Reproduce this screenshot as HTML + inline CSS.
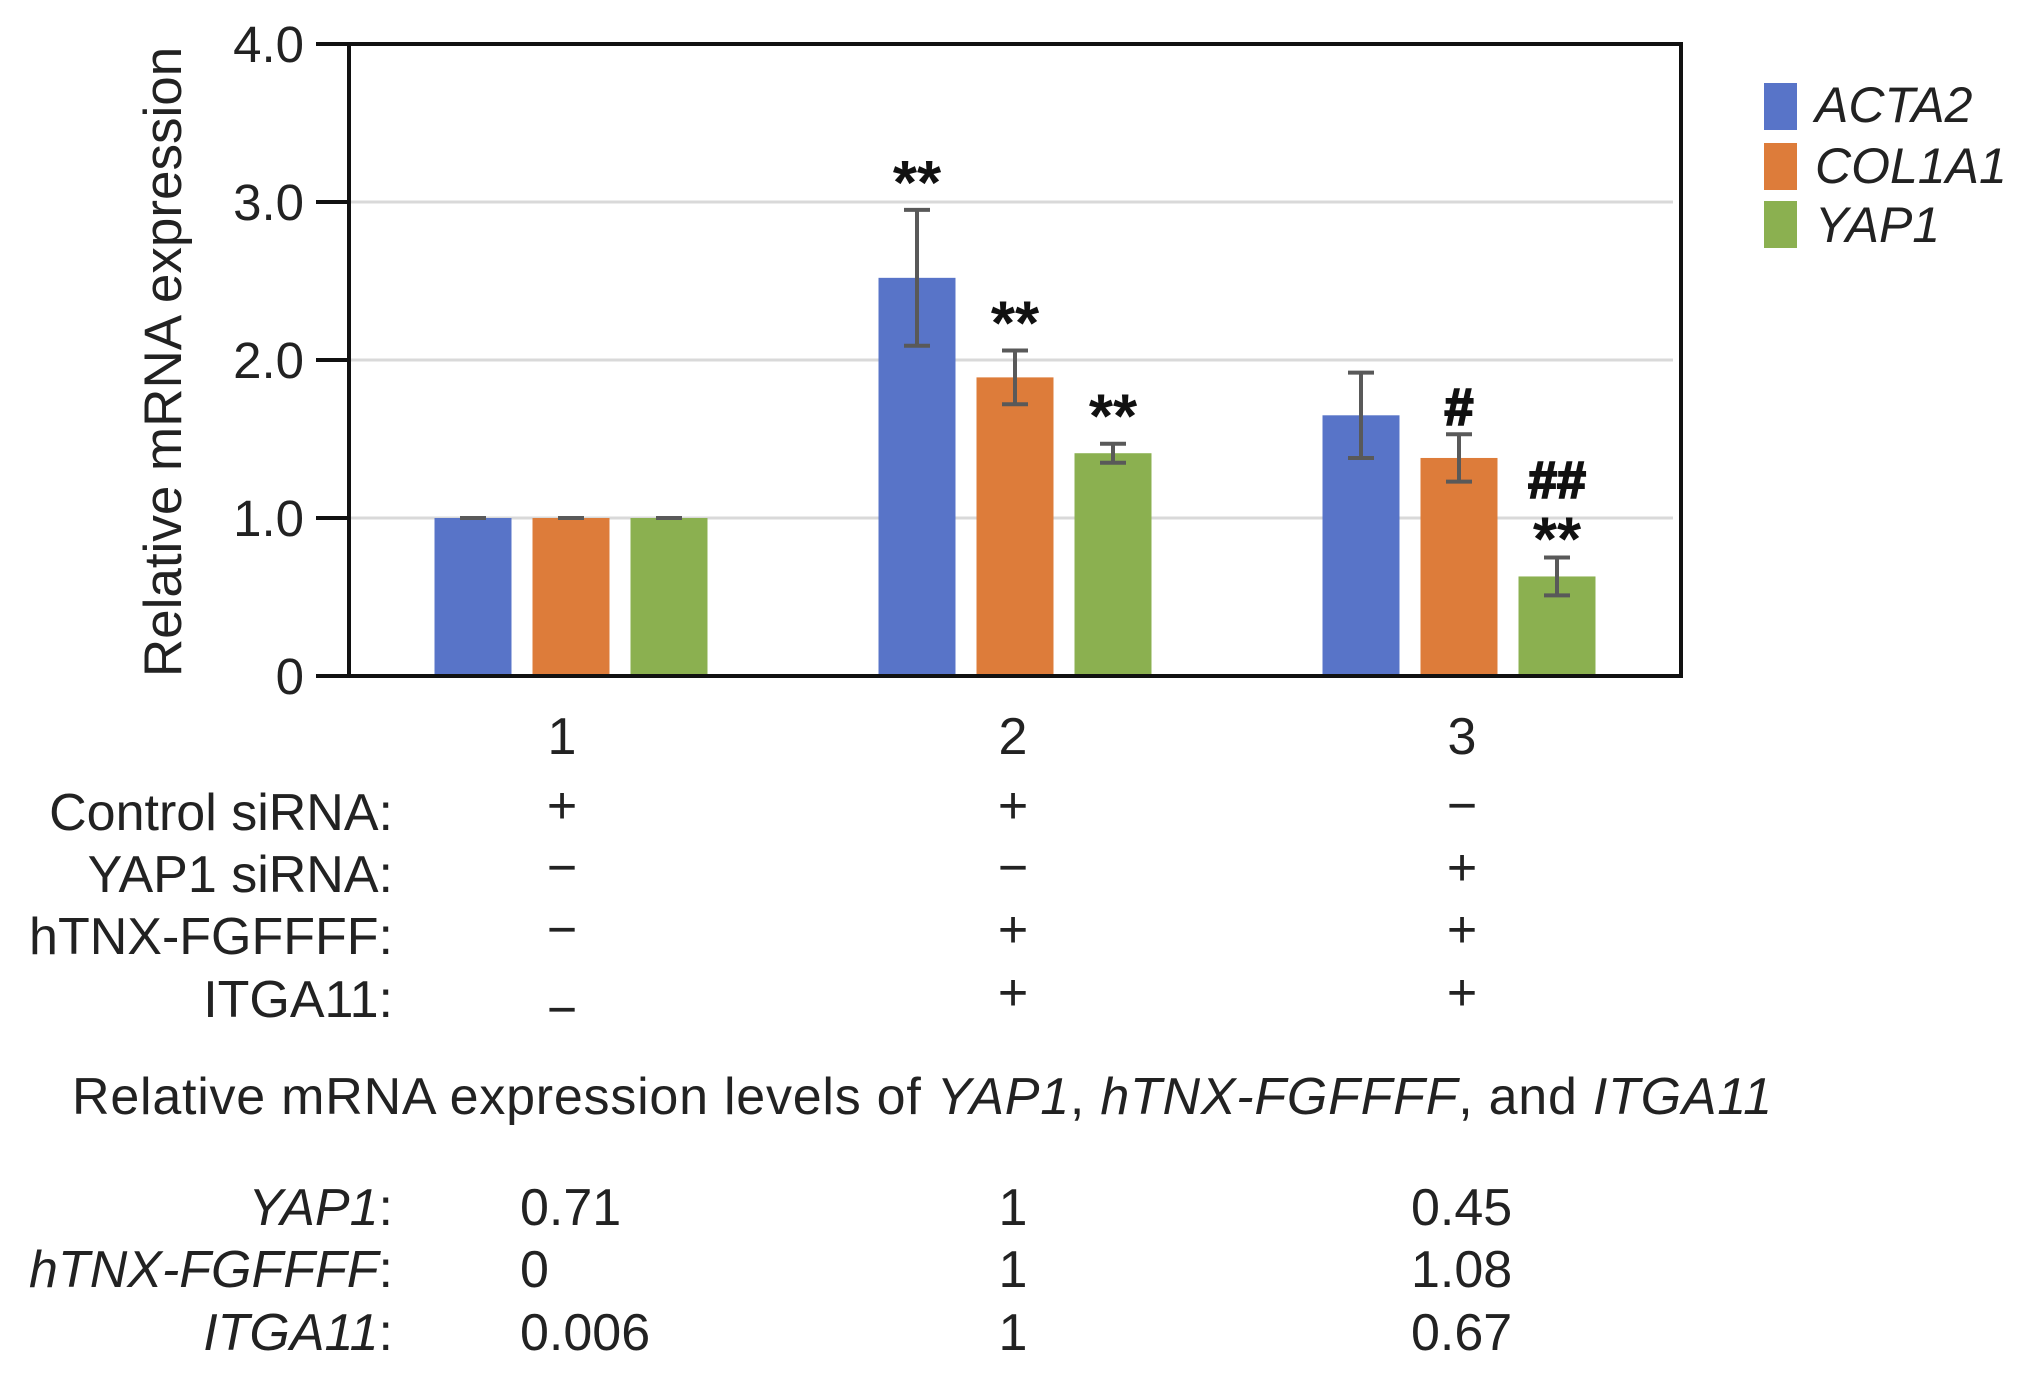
<!DOCTYPE html>
<html><head><meta charset="utf-8"><style>
html,body{margin:0;padding:0;background:#fff;}
svg{display:block;font-family:"Liberation Sans",Arial,sans-serif;}
</style></head><body>
<svg id="chart" width="2031" height="1377" viewBox="0 0 2031 1377" xmlns="http://www.w3.org/2000/svg">
<g id="grid"></g>
<g id="bars"></g>
<g id="axes"></g>
<text transform="translate(181,362) rotate(-90)" text-anchor="middle" font-size="53" fill="#222">Relative mRNA expression</text>
<g font-size="50" font-style="italic" fill="#222">
<rect x="1764" y="83" width="33" height="47" fill="#5874c8"/>
<text x="1815" y="122">ACTA2</text>
<rect x="1764" y="143" width="33" height="47" fill="#dd7c3a"/>
<text x="1815" y="183">COL1A1</text>
<rect x="1764" y="201" width="33" height="47" fill="#8bb050"/>
<text x="1815" y="242">YAP1</text>
</g>
<g font-size="52" fill="#222">
<text x="562" y="754" text-anchor="middle">1</text>
<text x="1013" y="754" text-anchor="middle">2</text>
<text x="1462" y="754" text-anchor="middle">3</text>
<g text-anchor="end">
<text x="393" y="830">Control siRNA:</text>
<text x="393" y="892">YAP1 siRNA:</text>
<text x="393" y="954">hTNX-FGFFFF:</text>
<text x="393" y="1017">ITGA11:</text>
</g>
<g text-anchor="middle">
<text x="562" y="823">+</text>
<text x="1013" y="823">+</text>
<text x="1462" y="823">−</text>
<text x="562" y="885">−</text>
<text x="1013" y="885">−</text>
<text x="1462" y="885">+</text>
<text x="562" y="947">−</text>
<text x="1013" y="947">+</text>
<text x="1462" y="947">+</text>
<text x="562" y="1027">−</text>
<text x="1013" y="1010">+</text>
<text x="1462" y="1010">+</text>
</g>
<text x="72" y="1114" textLength="1700" lengthAdjust="spacing">Relative mRNA expression levels of <tspan font-style="italic">YAP1</tspan>, <tspan font-style="italic">hTNX-FGFFFF</tspan>, and <tspan font-style="italic">ITGA11</tspan></text>
<g text-anchor="end" font-style="italic">
<text x="393" y="1225">YAP1<tspan font-style="normal">:</tspan></text>
<text x="393" y="1287">hTNX-FGFFFF<tspan font-style="normal">:</tspan></text>
<text x="393" y="1350">ITGA11<tspan font-style="normal">:</tspan></text>
</g>
<text x="520" y="1225">0.71</text>
<text x="520" y="1287">0</text>
<text x="520" y="1350">0.006</text>
<text x="1013" y="1225" text-anchor="middle">1</text>
<text x="1013" y="1287" text-anchor="middle">1</text>
<text x="1013" y="1350" text-anchor="middle">1</text>
<text x="1411" y="1225">0.45</text>
<text x="1411" y="1287">1.08</text>
<text x="1411" y="1350">0.67</text>
</g>
</svg>
<script>
const categories = ["1", "2", "3"];
const seriesNames = ["ACTA2", "COL1A1", "YAP1"];
const acta2 = [1.0, 2.52, 1.65];
const col1a1 = [1.0, 1.89, 1.38];
const yap1 = [1.0, 1.41, 0.63];
const acta2Err = [0.0, 0.43, 0.27];
const col1a1Err = [0.0, 0.17, 0.15];
const yap1Err = [0.0, 0.06, 0.12];
const acta2Sig = ["", "**", ""];
const col1a1Sig = ["", "**", "#"];
const yap1Sig = ["", "**", "##\n**"];
const yTicks = [0, 1, 2, 3, 4];
const yTickLabels = ["0", "1.0", "2.0", "3.0", "4.0"];

const NS = "http://www.w3.org/2000/svg";
const L = 349, R = 1681, T = 44, B = 676, yMax = 4;
const colors = ["#5874c8", "#dd7c3a", "#8bb050"];
const y = v => B - v / yMax * (B - T);
const catW = (R - L) / categories.length;
const xCenter = i => L + catW * (i + 0.5);
const barW = 77, step = 98;
function mk(tag, attrs, parent) {
  const e = document.createElementNS(NS, tag);
  for (const k in attrs) e.setAttribute(k, attrs[k]);
  parent.appendChild(e);
  return e;
}
const grid = document.getElementById('grid');
const axes = document.getElementById('axes');
const barsG = document.getElementById('bars');
yTicks.forEach((t, i) => {
  if (t > 0 && t < yMax) {
    const g = mk('line', {x1: L, x2: R - 8, y1: y(t), y2: y(t), stroke: '#d9d9d9', 'stroke-width': 3}, grid);
    
    
  }
  const tk = mk('line', {x1: 316, x2: L, y1: y(t), y2: y(t), stroke: '#111', 'stroke-width': 4}, axes);
  
  
  const lb = mk('text', {x: 304, y: y(t) + 18, 'text-anchor': 'end', 'font-size': 51, fill: '#222'}, axes);
  lb.textContent = yTickLabels[i];
  
  
});
const frame = mk('rect', {x: L, y: T, width: R - L, height: B - T, fill: 'none', stroke: '#111', 'stroke-width': 4}, axes);



const vals = [acta2, col1a1, yap1];
const errs = [acta2Err, col1a1Err, yap1Err];
const sigs = [acta2Sig, col1a1Sig, yap1Sig];
categories.forEach((c, i) => {
  vals.forEach((arr, s) => {
    const cx = xCenter(i) + (s - 1) * step;
    const v = arr[i];
    const r = mk('rect', {x: cx - barW / 2, y: y(v), width: barW, height: B - y(v), fill: colors[s]}, barsG);
    
    
    const e = errs[s][i];
    const eg = mk('g', {stroke: '#595959', 'stroke-width': 4}, barsG);
    
    
    mk('line', {x1: cx, x2: cx, y1: y(v + e), y2: y(v - e)}, eg);
    mk('line', {x1: cx - 13, x2: cx + 13, y1: y(v + e), y2: y(v + e)}, eg);
    mk('line', {x1: cx - 13, x2: cx + 13, y1: y(v - e), y2: y(v - e)}, eg);
    const sg = sigs[s][i];
    if (sg) {
      const lines = sg.split('\n');
      const top = y(v + e);
      const stacked = lines.length > 1;
      lines.forEach((ln, k) => {
        const isStar = ln.indexOf('*') >= 0;
        const up = lines.length - 1 - k;
        const base = isStar ? top - (stacked ? -3 : 6) - up * 44 : top - 10 - up * 50;
        const t = mk('text', {x: cx, y: base, 'text-anchor': 'middle', 'font-size': isStar ? 62 : 52, 'font-weight': 'bold', fill: '#111', stroke: isStar ? 'none' : '#111', 'stroke-width': isStar ? 0 : 2}, barsG);
        t.textContent = ln;
        
        
      });
    }
  });
});
</script>
</body></html>
